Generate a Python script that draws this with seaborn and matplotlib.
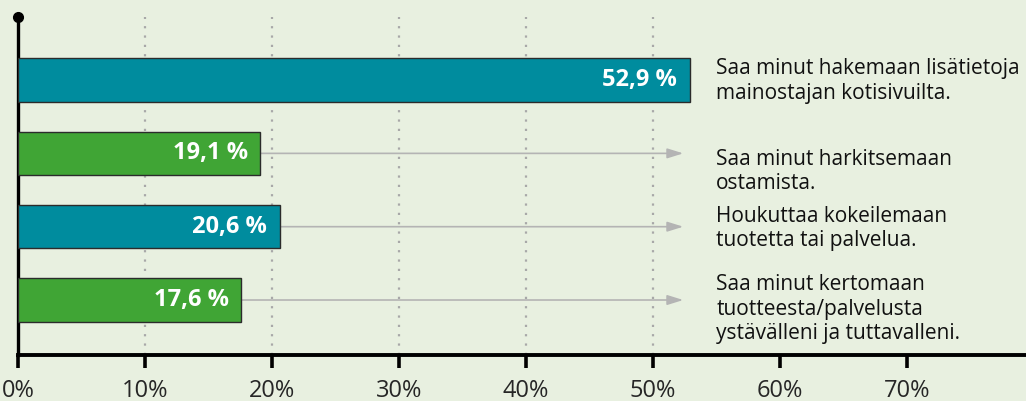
import numpy as np
import pandas as pd
import matplotlib
matplotlib.use('Agg')
import matplotlib.pyplot as plt
import seaborn as sns

# ── Data ───────────────────────────────────────────────────────────────────
statements = [
    'Saa minut hakemaan lisätietoja\nmainostajan kotisivuilta.',
    'Saa minut harkitsemaan\nostamista.',
    'Houkuttaa kokeilemaan\ntuotetta tai palvelua.',
    'Saa minut kertomaan\ntuotteesta/palvelusta\nystävälleni ja tuttavalleni.',
]
shares = [52.9, 19.1, 20.6, 17.6]
value_labels = ['52,9 %', '19,1 %', '20,6 %', '17,6 %']
tick_values = [0, 10, 20, 30, 40, 50, 60, 70]
tick_labels = ['0%', '10%', '20%', '30%', '40%', '50%', '60%', '70%']
grid_values = [10, 20, 30, 40, 50]

# ── Style ──────────────────────────────────────────────────────────────────
BG = '#E8F0E0'
TEAL = '#008C9E'
GREEN = '#40A535'
ARROW = '#B4B4B4'
GRIDC = '#A8A8A8'
bar_colors = [TEAL, GREEN, TEAL, GREEN]

sns.set_theme(style='white')
plt.rcParams['font.family'] = ['Open Sans', 'DejaVu Sans']

df = pd.DataFrame({'row': [str(i) for i in range(len(shares))],
                   'share': shares})

fig = plt.figure(figsize=(10.26, 4.01), dpi=100, facecolor=BG)
ax = fig.add_axes([18 / 1026, 46 / 401, 1 - 18 / 1026, 338 / 401])
ax.set_facecolor(BG)

sns.barplot(data=df, x='share', y='row', hue='row', palette=bar_colors,
            orient='h', width=0.59, legend=False, ax=ax, saturation=1,
            edgecolor='#2b2b2b', linewidth=1.0, zorder=3)

ax.set_xlim(0, 79.4)
ax.set_ylim(3.75, -0.86)

# dotted gridlines
for g in grid_values:
    ax.axvline(g, color=GRIDC, ls=(0, (1, 3.2)), lw=1.6, zorder=1)

# arrows, value labels, statements
arrow_end = 52.4
text_x = 55.0
text_dy = [0.7, 13, 1.4, 6.5]
for i, (v, lab, st) in enumerate(zip(shares, value_labels, statements)):
    if v < arrow_end:
        ax.annotate('', xy=(arrow_end, i), xytext=(v, i),
                    arrowprops=dict(arrowstyle='-|>,head_length=0.8,head_width=0.25',
                                    color=ARROW, lw=1.2, shrinkA=0, shrinkB=0),
                    zorder=2)
    ax.annotate(lab, xy=(v, i), xytext=(-9, 0), textcoords='offset points',
                ha='right', va='center', color='white', fontsize=17,
                fontweight='bold', zorder=4)
    ax.annotate(st, xy=(text_x, i), xytext=(0, -text_dy[i]),
                textcoords='offset points', ha='left', va='center',
                fontsize=15, color='#111111', linespacing=1.22)

# axes
for s in ['top', 'right']:
    ax.spines[s].set_visible(False)
ax.spines['left'].set_linewidth(2.4)
ax.spines['bottom'].set_linewidth(2.8)
ax.spines['left'].set_color('black')
ax.spines['bottom'].set_color('black')
ax.plot([0], [-0.86], 'o', color='black', ms=7, clip_on=False, zorder=5)

ax.set_xticks(tick_values)
ax.set_xticklabels(tick_labels, fontsize=17)
ax.set_yticks([])
ax.tick_params(axis='x', direction='out', length=9, width=2.6,
               color='black', pad=8, bottom=True)
ax.set_xlabel('')
ax.set_ylabel('')

fig.savefig('out.png', dpi=100, facecolor=BG)
